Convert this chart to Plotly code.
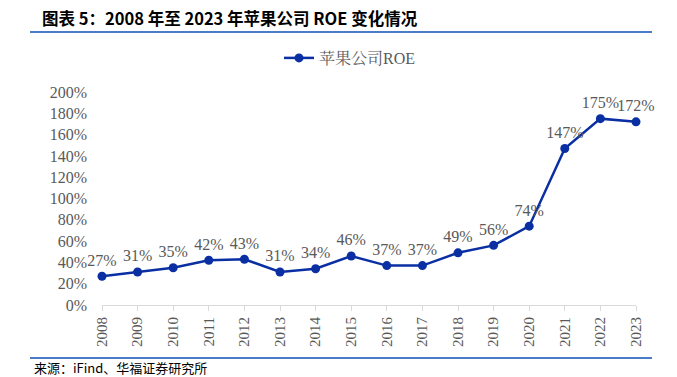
import plotly.graph_objects as go

years = list(range(2008, 2024))
roe = [27, 31, 35, 42, 43, 31, 34, 46, 37, 37, 49, 56, 74, 147, 175, 172]
y_ticks = [0, 20, 40, 60, 80, 100, 120, 140, 160, 180, 200]

W, H = 677, 377
L, R, T, B = 102, 41, 92, 72
pw, ph = W - L - R, H - T - B

def px(x):
    return (x - L) / pw

def py(y):
    return (H - B - y) / ph

BLUE = "#0A2FA3"
GRAY = "#595959"
SERIF = "Liberation Serif, Noto Serif CJK SC, Noto Sans CJK SC, serif"

fig = go.Figure()
fig.add_trace(go.Scatter(
    x=years, y=roe, mode="lines+markers+text", name="苹果公司ROE",
    line=dict(color=BLUE, width=2.5),
    marker=dict(color=BLUE, size=9),
    text=[f"{v}%" for v in roe], textposition="top center",
    textfont=dict(family=SERIF, size=16, color=GRAY),
    cliponaxis=False,
))

fig.update_layout(
    width=W, height=H,
    margin=dict(l=L, r=R, t=T, b=B, autoexpand=False),
    paper_bgcolor="white", plot_bgcolor="white",
    showlegend=True,
    legend=dict(orientation="h", x=px(350), xanchor="center", y=py(58), yanchor="middle",
                font=dict(family=SERIF, size=16, color=GRAY), bgcolor="rgba(0,0,0,0)"),
    xaxis=dict(range=[2008, 2023], tickvals=years, ticktext=[str(y) for y in years],
               tickangle=-90, showgrid=False, zeroline=False,
               showline=True, linecolor="#D9D9D9", linewidth=1,
               ticks="outside", ticklen=5, tickcolor="#D9D9D9",
               tickfont=dict(family=SERIF, size=15, color=GRAY)),
    yaxis=dict(range=[0, 200], tickvals=y_ticks, ticktext=[f"{v}%" for v in y_ticks],
               showgrid=False, zeroline=False, showline=False, ticks="",
               ticklabelstandoff=14,
               tickfont=dict(family=SERIF, size=16, color=GRAY)),
)

fig.add_annotation(xref="paper", yref="paper", x=px(40), y=py(18), xanchor="left", yanchor="middle",
                   text="<b>图表 5：2008 年至 2023 年苹果公司 ROE 变化情况</b>", showarrow=False,
                   font=dict(family="Noto Sans CJK SC", size=16.5, color="black"))
fig.add_annotation(xref="paper", yref="paper", x=px(32), y=py(367), xanchor="left", yanchor="middle",
                   text="来源：iFind、华福证券研究所", showarrow=False,
                   font=dict(family="Noto Sans CJK SC", size=13, color="black"))
for yy in (32, 358):
    fig.add_shape(type="line", xref="paper", yref="paper", x0=px(30), x1=px(652), y0=py(yy), y1=py(yy),
                  line=dict(color="#4A7CC7", width=2))

fig.write_html("out.html", config={"displayModeBar": False},
               post_script="document.body.style.margin='0';document.body.style.overflow='hidden';")
